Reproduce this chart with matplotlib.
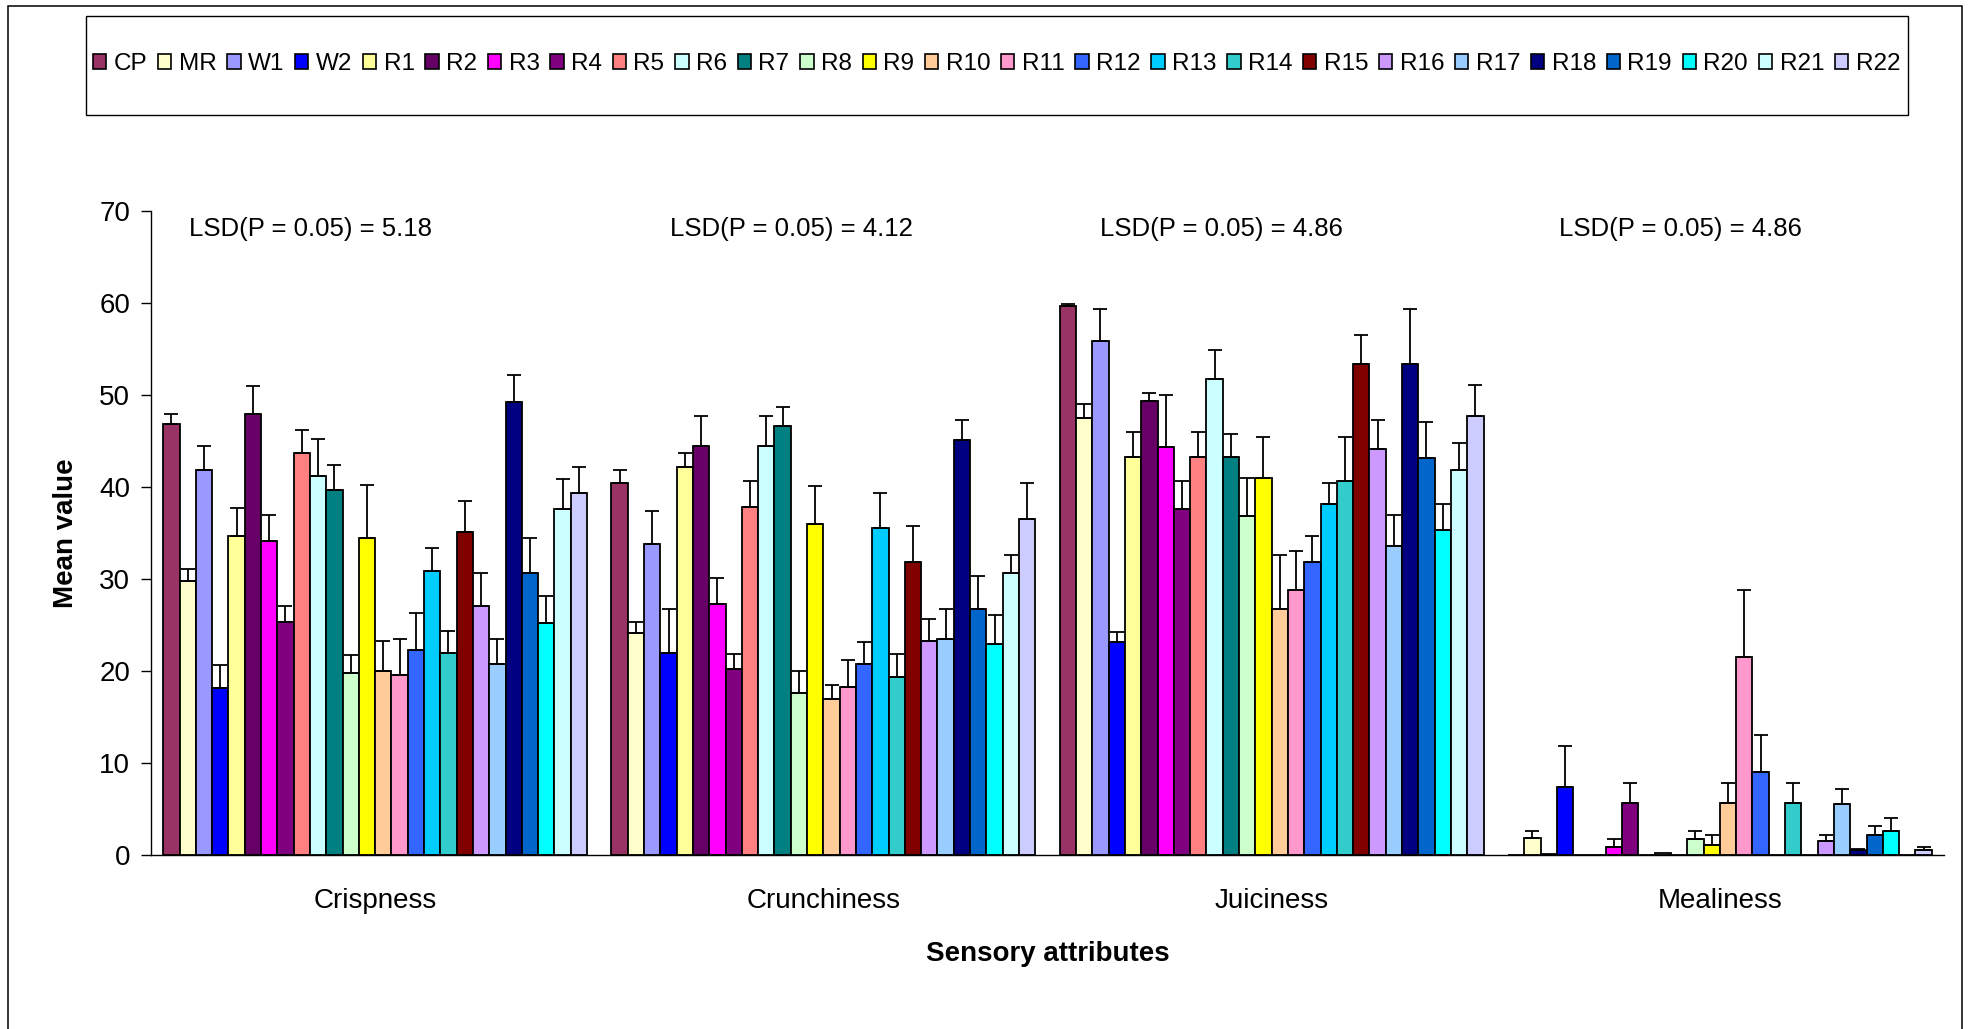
import numpy as np
import matplotlib
matplotlib.use("Agg")
import matplotlib.pyplot as plt
from matplotlib.patches import Rectangle, Patch

plt.rcParams['font.family'] = ['Liberation Sans', 'DejaVu Sans']

# ---- data -------------------------------------------------------------
attributes = ["Crispness", "Crunchiness", "Juiciness", "Mealiness"]
samples = ["CP", "MR", "W1", "W2", "R1", "R2", "R3", "R4", "R5", "R6", "R7",
           "R8", "R9", "R10", "R11", "R12", "R13", "R14", "R15", "R16", "R17",
           "R18", "R19", "R20", "R21", "R22"]
sample_colors = ["#993366", "#FFFFCC", "#9999FF", "#0000FF", "#FFFF99", "#660066",
                 "#FF00FF", "#800080", "#FF8080", "#CCFFFF", "#008080", "#CCFFCC",
                 "#FFFF00", "#FFCC99", "#FF99CC", "#3366FF", "#00CCFF", "#33CCCC",
                 "#800000", "#CC99FF", "#99CCFF", "#000080", "#0066CC", "#00FFFF",
                 "#CCFFFF", "#CCCCFF"]

crisp_mean = [46.9, 29.8, 41.9, 18.1, 34.7, 47.9, 34.1, 25.3, 43.7, 41.2, 39.7,
              19.8, 34.5, 20.0, 19.6, 22.3, 30.9, 22.0, 35.1, 27.1, 20.8,
              49.2, 30.7, 25.2, 37.6, 39.3]
crisp_err = [1.0, 1.3, 2.6, 2.5, 3.0, 3.1, 2.9, 1.8, 2.5, 4.0, 2.7,
             1.9, 5.7, 3.3, 3.9, 4.0, 2.5, 2.4, 3.4, 3.6, 2.7,
             3.0, 3.8, 3.0, 3.3, 2.9]

crunch_mean = [40.4, 24.1, 33.8, 22.0, 42.2, 44.5, 27.3, 20.2, 37.8, 44.5, 46.6,
               17.6, 36.0, 17.0, 18.3, 20.8, 35.5, 19.3, 31.9, 23.3, 23.5,
               45.1, 26.7, 22.9, 30.7, 36.5]
crunch_err = [1.4, 1.2, 3.6, 4.7, 1.5, 3.2, 2.8, 1.6, 2.8, 3.2, 2.1,
              2.4, 4.1, 1.5, 2.9, 2.3, 3.8, 2.5, 3.9, 2.3, 3.2,
              2.2, 3.6, 3.2, 1.9, 3.9]

juicy_mean = [59.7, 47.5, 55.9, 23.1, 43.3, 49.4, 44.3, 37.6, 43.3, 51.7, 43.3,
              36.8, 41.0, 26.7, 28.8, 31.9, 38.2, 40.7, 53.4, 44.1, 33.6,
              53.4, 43.1, 35.3, 41.8, 47.7]
juicy_err = [0.2, 1.5, 3.4, 1.1, 2.7, 0.8, 5.7, 3.0, 2.7, 3.2, 2.5,
             4.2, 4.4, 5.9, 4.2, 2.8, 2.2, 4.7, 3.1, 3.2, 3.4,
             5.9, 4.0, 2.9, 3.0, 3.4]

mealy_mean = [0.0, 1.9, 0.15, 7.4, 0.0, 0.0, 0.9, 5.7, 0.0, 0.2, 0.0,
              1.7, 1.1, 5.7, 21.5, 9.0, 0.0, 5.7, 0.0, 1.5, 5.5,
              0.5, 2.2, 2.6, 0.0, 0.5]
mealy_err = [0.0, 0.7, 0.0, 4.4, 0.0, 0.0, 0.8, 2.1, 0.0, 0.0, 0.0,
             0.9, 1.1, 2.1, 7.3, 4.0, 0.0, 2.1, 0.0, 0.7, 1.7,
             0.2, 1.0, 1.4, 0.0, 0.4]

lsd_labels = ["LSD(P = 0.05) = 5.18", "LSD(P = 0.05) = 4.12",
              "LSD(P = 0.05) = 4.86", "LSD(P = 0.05) = 4.86"]

means = np.array([crisp_mean, crunch_mean, juicy_mean, mealy_mean])
errs = np.array([crisp_err, crunch_err, juicy_err, mealy_err])

# ---- figure -----------------------------------------------------------
W, H = 1970, 1029
fig = plt.figure(figsize=(W / 100, H / 100), dpi=100)
fig.patch.set_facecolor("white")

# outer chart frame
fig.add_artist(Rectangle((8 / W, -0.02), (1962 - 8) / W, 1.02 - 6 / H,
                         transform=fig.transFigure, fill=False,
                         edgecolor="black", linewidth=1.1, clip_on=False))

ax = fig.add_axes([151 / W, 1 - 855 / H, (1944 - 151) / W, (855 - 211) / H])

n = len(samples)
slot = 1.0 / (n + 1.5)          # 150% gap between category clusters
x = np.arange(len(attributes))

for j, (name, col) in enumerate(zip(samples, sample_colors)):
    xs = x + (j - (n - 1) / 2) * slot
    ax.bar(xs, means[:, j], width=slot, color=col, edgecolor="black",
           linewidth=1.3, zorder=2)
    e = errs[:, j]
    m = e > 0
    if m.any():
        ax.errorbar(xs[m], means[m, j], yerr=[np.zeros(m.sum()), e[m]],
                    fmt="none", ecolor="black", elinewidth=1.3,
                    capsize=5.3, capthick=1.3, zorder=3)

ax.set_xlim(-0.5, 3.5)
ax.set_ylim(0, 70)
ax.set_yticks(np.arange(0, 71, 10))
ax.set_xticks(x)
ax.set_xticklabels(attributes, fontsize=20)
ax.tick_params(axis="y", direction="out", length=7, width=1.0, pad=8,
               labelsize=20)
ax.tick_params(axis="x", length=0, pad=24)
for s in ("top", "right"):
    ax.spines[s].set_visible(False)
ax.spines["left"].set_linewidth(1.0)
ax.spines["bottom"].set_linewidth(1.0)

ax.set_ylabel("Mean value", fontsize=20, fontweight="bold")
ax.yaxis.set_label_coords((66 - 151) / (1944 - 151), 0.5)
ax.yaxis.label.set_va("center")
ax.set_xlabel("Sensory attributes", fontsize=20, fontweight="bold")
ax.xaxis.set_label_coords(0.5, (855 - 954) / (855 - 211))
ax.xaxis.label.set_va("center")

# LSD annotations above each attribute cluster
lsd_x = [-0.416, 0.657, 1.618, 2.642]
for xt, txt in zip(lsd_x, lsd_labels):
    ax.text(xt, 68.0, txt, fontsize=18.5, ha="left", va="center")

# legend with its own box
fig.add_artist(Rectangle((86 / W, 1 - 115 / H), (1908 - 86) / W, 99 / H,
                         transform=fig.transFigure, fill=False,
                         edgecolor="black", linewidth=1.0))
handles = [Patch(facecolor=c, edgecolor="black", linewidth=1.2) for c in sample_colors]
fig.legend(handles, samples, ncol=n, loc="center", mode="expand",
           bbox_to_anchor=(93 / W, 1 - 64 / H - 0.01, (1900 - 93) / W, 0.02),
           frameon=False, fontsize=17.5, borderpad=0, borderaxespad=0,
           handlelength=0.55, handleheight=0.55, handletextpad=0.3,
           columnspacing=0.4)

fig.savefig("out.png", dpi=100)
